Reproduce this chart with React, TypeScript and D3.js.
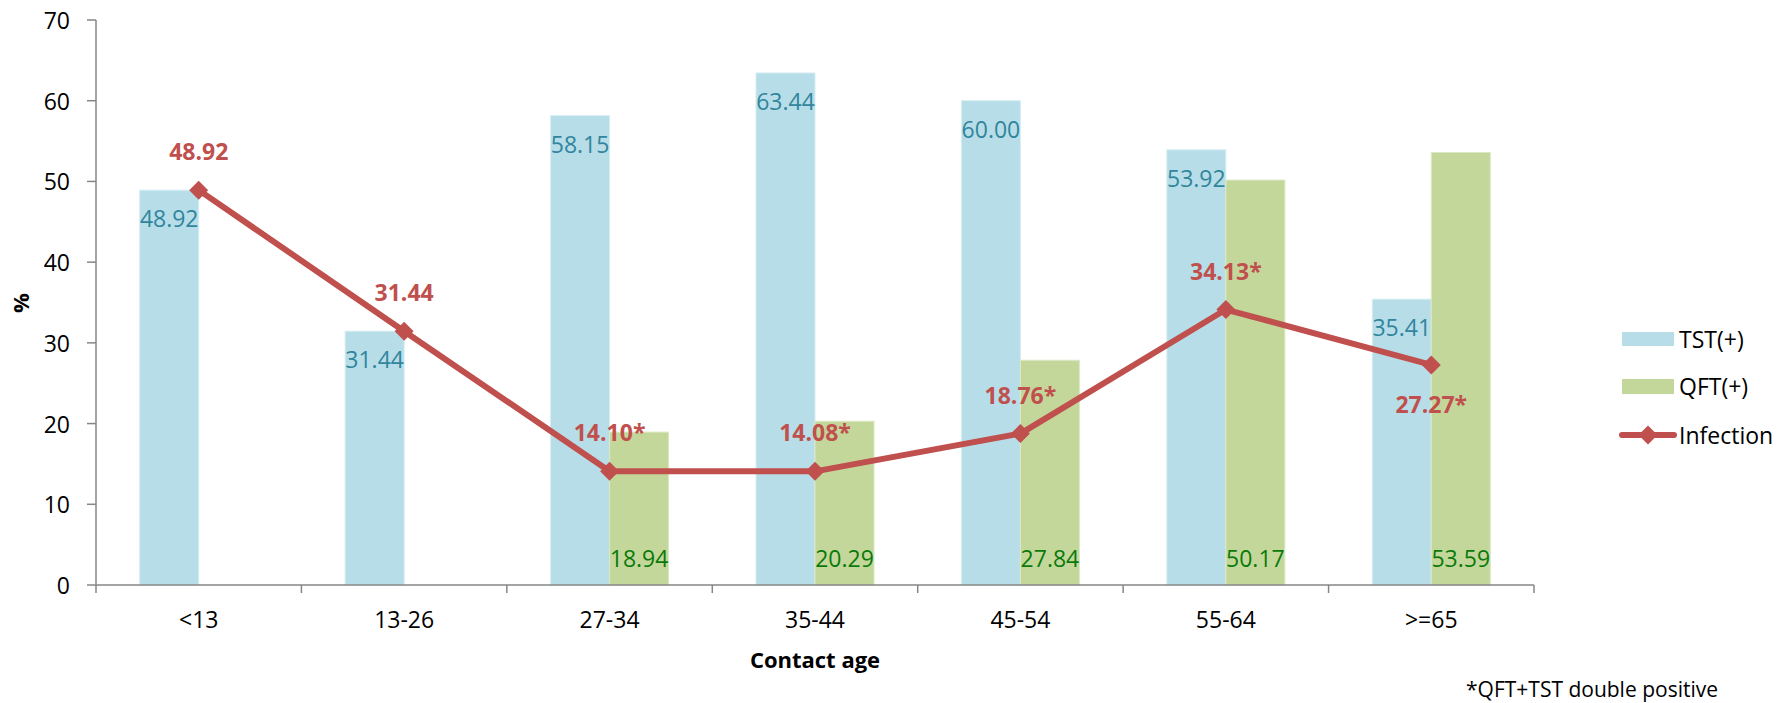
import React from "react";
import * as d3 from "d3";

// Contact age groups and the positive rates (%) per group
const categories = ["<13", "13-26", "27-34", "35-44", "45-54", "55-64", ">=65"];
const tstValues = [48.92, 31.44, 58.15, 63.44, 60.0, 53.92, 35.41];
const qftValues: (number | null)[] = [null, null, 18.94, 20.29, 27.84, 50.17, 53.59];
const infectionValues = [48.92, 31.44, 14.1, 14.08, 18.76, 34.13, 27.27];
const infectionLabels = ["48.92", "31.44", "14.10*", "14.08*", "18.76*", "34.13*", "27.27*"];
// label placement of the infection line: above or below the point
const infectionLabelSide = ["above", "above", "above", "above", "above", "above", "below"];
const yTicks = [0, 10, 20, 30, 40, 50, 60, 70];
const seriesNames = ["TST(+)", "QFT(+)", "Infection"];

const W = 1789;
const H = 703;
const FONT = "'Open Sans', 'Noto Sans', sans-serif";
const C_TST = "#B7DEE8";
const C_QFT = "#C4D79B";
const C_LINE = "#C0504D";
const C_TST_LABEL = "#31859C";
const C_QFT_LABEL = "#0B7A0B";
const C_AXIS = "#868686";

export default function App() {
  const left = 96;
  const right = 1534;
  const top = 20;
  const bottom = 585;

  const x = d3.scaleBand<string>().domain(categories).range([left, right]).paddingInner(0.4255).paddingOuter(0.4255 / 2);
  const step = x.step();
  const sub = d3.scaleBand<string>().domain(["tst", "qft"]).range([0, x.bandwidth()]);
  const y = d3.scaleLinear().domain([0, 70]).range([bottom, top]);
  const cx = (c: string) => (x(c) ?? 0) + x.bandwidth() / 2;

  const line = d3
    .line<number>()
    .x((_, i) => cx(categories[i]))
    .y((v) => y(v));

  const diamond = d3.symbol().type(d3.symbolDiamond2).size(230)();

  const boundaries = d3.range(categories.length + 1).map((i) => left + i * step);

  return (
    <svg width={W} height={H} style={{ display: "block", position: "absolute", left: 0, top: 0, background: "#fff" }} fontFamily={FONT}>
      {/* bars */}
      {categories.map((c, i) => (
        <g key={c}>
          <rect
            x={(x(c) ?? 0) + (sub("tst") ?? 0)}
            y={y(tstValues[i])}
            width={sub.bandwidth()}
            height={y(0) - y(tstValues[i])}
            fill={C_TST}
            stroke="#D6EDF3"
            strokeWidth={1}
          />
          {qftValues[i] != null && (
            <rect
              x={(x(c) ?? 0) + (sub("qft") ?? 0)}
              y={y(qftValues[i] as number)}
              width={sub.bandwidth()}
              height={y(0) - y(qftValues[i] as number)}
              fill={C_QFT}
              stroke="#DCE8C3"
              strokeWidth={1}
            />
          )}
        </g>
      ))}

      {/* axes */}
      <line x1={left} x2={left} y1={top} y2={bottom} stroke={C_AXIS} strokeWidth={1.5} />
      <line x1={left} x2={right} y1={bottom} y2={bottom} stroke={C_AXIS} strokeWidth={1.5} />
      {yTicks.map((t) => (
        <g key={t}>
          <line x1={left - 9} x2={left} y1={y(t)} y2={y(t)} stroke={C_AXIS} strokeWidth={1.5} />
          <text x={70} y={y(t)} textAnchor="end" dominantBaseline="central" fontSize={23} fill="#000">
            {t}
          </text>
        </g>
      ))}
      {boundaries.map((b, i) => (
        <line key={i} x1={b} x2={b} y1={bottom} y2={bottom + 8} stroke={C_AXIS} strokeWidth={1.5} />
      ))}
      {categories.map((c) => (
        <text key={c} x={cx(c)} y={628} textAnchor="middle" fontSize={23} fill="#000">
          {c}
        </text>
      ))}

      {/* axis titles */}
      <text x={815} y={668} textAnchor="middle" fontSize={22} fontWeight="bold" fill="#000">
        Contact age
      </text>
      <text
        transform={`translate(20,303) rotate(-90)`}
        textAnchor="middle"
        dominantBaseline="central"
        fontSize={22}
        fontWeight="bold"
        fill="#000"
      >
        %
      </text>

      {/* bar labels */}
      {categories.map((c, i) => (
        <text
          key={"t" + c}
          x={(x(c) ?? 0) + (sub("tst") ?? 0) + sub.bandwidth() / 2}
          y={y(tstValues[i]) + 37}
          textAnchor="middle"
          fontSize={23}
          fill={C_TST_LABEL}
        >
          {tstValues[i].toFixed(2)}
        </text>
      ))}
      {categories.map((c, i) =>
        qftValues[i] != null ? (
          <text
            key={"q" + c}
            x={(x(c) ?? 0) + (sub("qft") ?? 0) + sub.bandwidth() / 2}
            y={y(0) - 18}
            textAnchor="middle"
            fontSize={23}
            fill={C_QFT_LABEL}
          >
            {(qftValues[i] as number).toFixed(2)}
          </text>
        ) : null
      )}

      {/* infection line */}
      <path d={line(infectionValues) ?? ""} fill="none" stroke={C_LINE} strokeWidth={6} strokeLinejoin="round" />
      {infectionValues.map((v, i) => (
        <path key={i} d={diamond ?? ""} transform={`translate(${cx(categories[i])},${y(v)})`} fill={C_LINE} />
      ))}
      {infectionValues.map((v, i) => (
        <text
          key={"l" + i}
          x={cx(categories[i])}
          y={infectionLabelSide[i] === "above" ? y(v) - 30 : y(v) + 48}
          textAnchor="middle"
          fontSize={23}
          fontWeight="bold"
          fill={C_LINE}
        >
          {infectionLabels[i]}
        </text>
      ))}

      {/* legend */}
      <rect x={1622} y={332} width={52} height={14} fill={C_TST} />
      <text x={1679} y={339} dominantBaseline="central" fontSize={23} fill="#000">
        {seriesNames[0]}
      </text>
      <rect x={1622} y={379} width={52} height={15} fill={C_QFT} />
      <text x={1679} y={386} dominantBaseline="central" fontSize={23} fill="#000">
        {seriesNames[1]}
      </text>
      <line x1={1622} x2={1674} y1={435} y2={435} stroke={C_LINE} strokeWidth={6} strokeLinecap="round" />
      <path d={diamond ?? ""} transform="translate(1648,435)" fill={C_LINE} />
      <text x={1679} y={435} dominantBaseline="central" fontSize={23} fill="#000">
        {seriesNames[2]}
      </text>

      {/* footnote */}
      <text x={1466} y={697} fontSize={21} fill="#000">
        *QFT+TST double positive
      </text>
    </svg>
  );
}
